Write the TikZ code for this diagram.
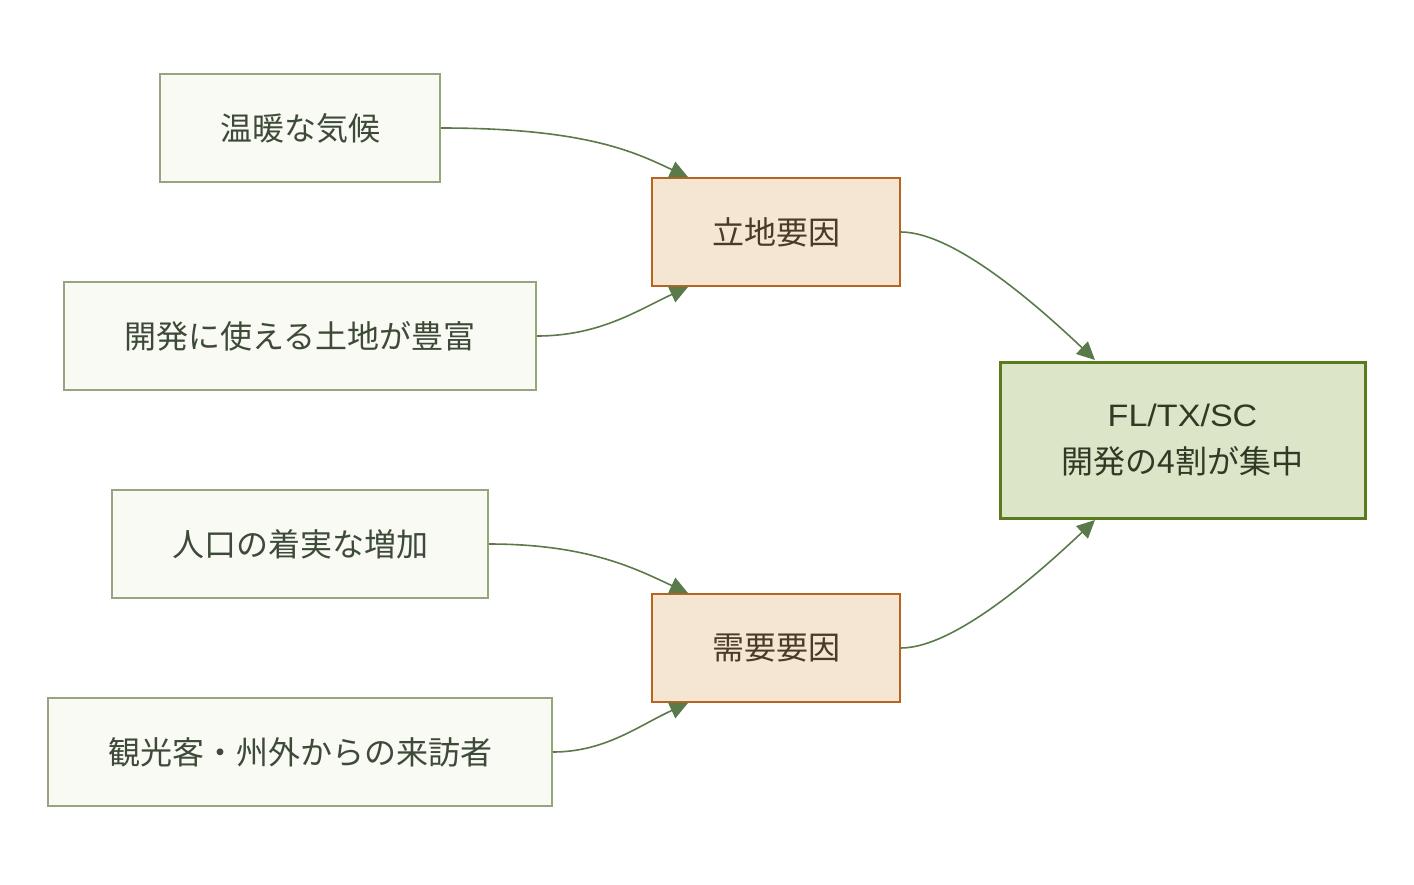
\documentclass[tikz,border=0pt]{standalone}
\usepackage{fontspec}
\setmainfont{Noto Sans CJK JP}
\newfontfamily\latinfont[FakeStretch=1.1]{Liberation Sans}
\usetikzlibrary{arrows.meta}
\definecolor{leafFill}{HTML}{F8FAF3}
\definecolor{leafLine}{HTML}{94A77C}
\definecolor{leafText}{HTML}{3E4A38}
\definecolor{facFill}{HTML}{F5E6D3}
\definecolor{facLine}{HTML}{B5651D}
\definecolor{facText}{HTML}{4A3A28}
\definecolor{tgtFill}{HTML}{DDE5C8}
\definecolor{tgtLine}{HTML}{5A7A1E}
\definecolor{tgtText}{HTML}{2F3A25}
\definecolor{edgeCol}{HTML}{5A7A4A}
\tikzset{
  leafbox/.style={draw=leafLine, fill=leafFill, line width=1.5pt, text=leafText, inner sep=0pt, font=\fontsize{32}{38}\selectfont},
  facbox/.style={draw=facLine, fill=facFill, line width=1.5pt, text=facText, inner sep=0pt, minimum width=248pt, minimum height=108pt, font=\fontsize{32}{38}\selectfont},
  tgtbox/.style={draw=tgtLine, fill=tgtFill, line width=3pt, text=tgtText, inner sep=0pt, minimum width=365pt, minimum height=156pt, align=center, font=\fontsize{32}{47}\selectfont},
  conn/.style={draw=edgeCol, line width=1.6pt, -{Triangle[length=18pt,width=17pt]}}
}
\begin{document}
\begin{tikzpicture}[x=1pt,y=-1pt]
\useasboundingbox (0,0) rectangle (1414,884);
\node[leafbox, minimum width=280pt, minimum height=108pt] (a) at (300,128) {温暖な気候};
\node[leafbox, minimum width=472pt, minimum height=108pt] (b) at (300,336) {開発に使える土地が豊富};
\node[leafbox, minimum width=376pt, minimum height=108pt] (c) at (300,544) {人口の着実な増加};
\node[leafbox, minimum width=504pt, minimum height=108pt] (d) at (300,752) {観光客・州外からの来訪者};
\node[facbox] (f1) at (776,232) {立地要因};
\node[facbox] (f2) at (776,648) {需要要因};
\node[tgtbox] (t) at (1182.5,440) {{\fontsize{31}{47}\latinfont FL/TX/SC}\\開発の4割が集中};
\coordinate (f1in1) at (688,177);
\coordinate (f1in2) at (688,287);
\coordinate (f2in1) at (688,593);
\coordinate (f2in2) at (688,703);
\coordinate (tin1) at (1095,360);
\coordinate (tin2) at (1095,520);
\draw[conn] (a.east) .. controls (590,128) and (638,154) .. (f1in1);
\draw[conn] (b.east) .. controls (600,336) and (638,310) .. (f1in2);
\draw[conn] (c.east) .. controls (590,544) and (638,570) .. (f2in1);
\draw[conn] (d.east) .. controls (605,752) and (638,726) .. (f2in2);
\draw[conn] (f1.east) .. controls (955,232) and (1040,308) .. (tin1);
\draw[conn] (f2.east) .. controls (955,648) and (1040,572) .. (tin2);
\end{tikzpicture}
\end{document}
